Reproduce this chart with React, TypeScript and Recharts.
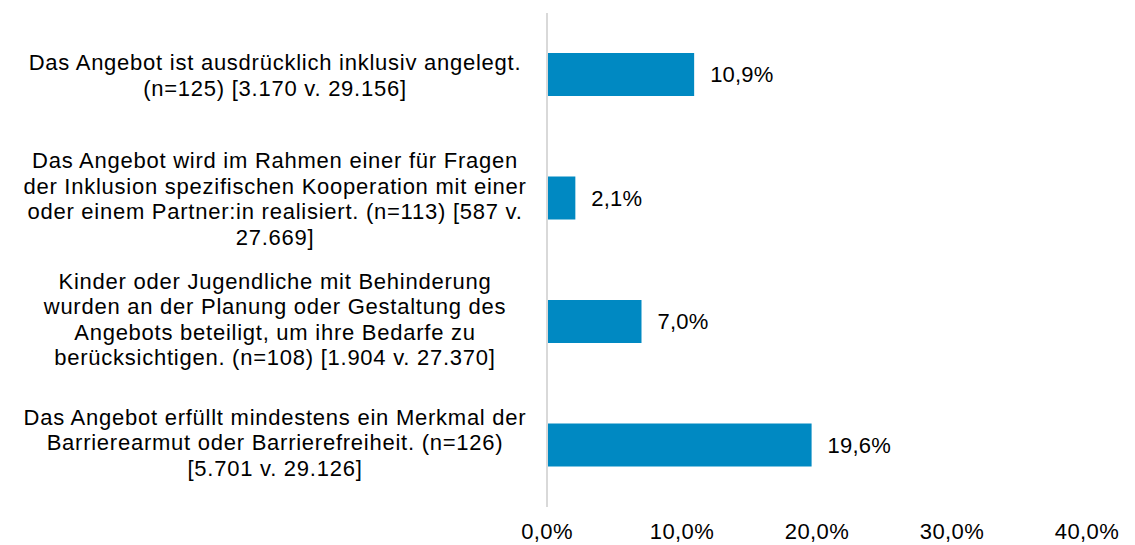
import { BarChart, Bar, XAxis, YAxis, LabelList } from 'recharts';

const categoryLines: string[][] = [
  ['Das Angebot ist ausdrücklich inklusiv angelegt.', '(n=125) [3.170 v. 29.156]'],
  [
    'Das Angebot wird im Rahmen einer für Fragen',
    'der Inklusion spezifischen Kooperation mit einer',
    'oder einem Partner:in realisiert. (n=113) [587 v.',
    '27.669]',
  ],
  [
    'Kinder oder Jugendliche mit Behinderung',
    'wurden an der Planung oder Gestaltung des',
    'Angebots beteiligt, um ihre Bedarfe zu',
    'berücksichtigen. (n=108) [1.904 v. 27.370]',
  ],
  [
    'Das Angebot erfüllt mindestens ein Merkmal der',
    'Barrierearmut oder Barrierefreiheit. (n=126)',
    '[5.701 v. 29.126]',
  ],
];

const shares = [10.9, 2.1, 7.0, 19.6];
const xTicks = [0, 10, 20, 30, 40];

const FONT = 'Liberation Sans, Arial, sans-serif';
const BAR_COLOR = '#0089C2';

const chartData = categoryLines.map((lines, i) => ({
  name: String(i),
  value: shares[i],
}));

const fmt = (v: number) => v.toFixed(1).replace('.', ',') + '%';

const CategoryTick = ({ y, payload }: any) => {
  const idx = Number(payload.value);
  const lines = categoryLines[idx];
  const lh = 25.5;
  const startY = y - ((lines.length - 1) * lh) / 2 - (idx >= 2 ? 3 : 0);
  return (
    <text
      x={267}
      y={startY}
      textAnchor="middle"
      fontFamily={FONT}
      fontSize={22}
      letterSpacing={0.75}
      fill="#000"
      dominantBaseline="central"
    >
      {lines.map((line, j) => (
        <tspan key={j} x={267} y={startY + j * lh}>
          {line}
        </tspan>
      ))}
    </text>
  );
};

export default function App() {
  return (
    <BarChart
      width={1127}
      height={537}
      data={chartData}
      layout="vertical"
      margin={{ top: 5, right: 48, left: 0, bottom: 0 }}
    >
      <XAxis
        type="number"
        domain={[0, 40]}
        ticks={xTicks}
        tickFormatter={fmt}
        axisLine={false}
        tickLine={false}
        tickMargin={10}
        height={38}
        tick={{ fontFamily: FONT, fontSize: 22, fill: '#000', letterSpacing: 0.4 }}
      />
      <YAxis
        type="category"
        dataKey="name"
        width={539}
        axisLine={{ stroke: '#d9d9d9', strokeWidth: 2 }}
        tickLine={false}
        tick={<CategoryTick />}
        interval={0}
      />
      <Bar dataKey="value" fill={BAR_COLOR} barSize={43} isAnimationActive={false}>
        <LabelList
          dataKey="value"
          position="right"
          offset={16}
          formatter={(v: any) => fmt(Number(v))}
          style={{ fontFamily: FONT, fontSize: 22, fill: '#000', letterSpacing: 0.2 }}
        />
      </Bar>
    </BarChart>
  );
}
